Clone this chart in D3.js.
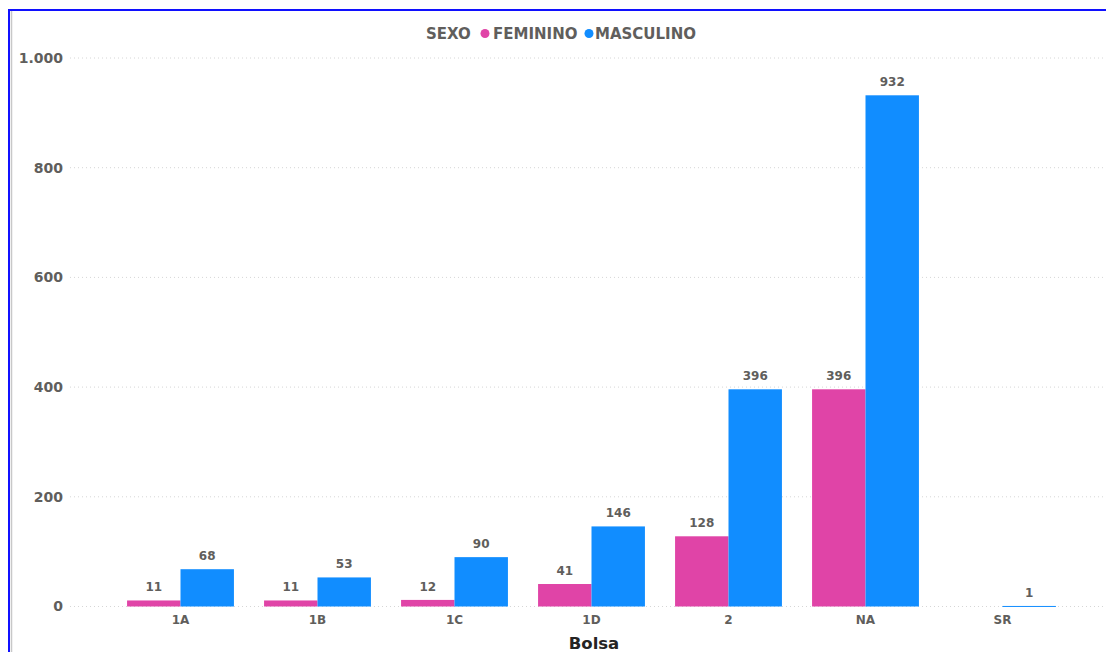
<!DOCTYPE html>
<html>
<head>
<meta charset="utf-8">
<script src="https://cdn.jsdelivr.net/npm/d3@7"></script>
<style>
  html, body { margin: 0; padding: 0; background: #fff; }
  svg { display: block; font-family: "DejaVu Sans", Verdana, sans-serif; }
</style>
</head>
<body>
<svg id="chart" width="1106" height="652"></svg>
<script>
// Bolsa categories and counts by sex
const categories = ["1A", "1B", "1C", "1D", "2", "NA", "SR"];
const feminino = [11, 11, 12, 41, 128, 396, null];
const masculino = [68, 53, 90, 146, 396, 932, 1];
const yTicks = [0, 200, 400, 600, 800, 1000];
const seriesNames = ["FEMININO", "MASCULINO"];
const seriesColors = ["#E044A7", "#118DFF"];

const FONT = "'DejaVu Sans', Verdana, sans-serif";
const svg = d3.select("#chart");
const W = 1106, H = 652;

// frame
svg.append("rect").attr("x", 0).attr("y", 0).attr("width", W).attr("height", H).attr("fill", "#fff");
svg.append("line").attr("x1", 8).attr("x2", W).attr("y1", 10).attr("y2", 10)
  .attr("stroke", "#1010ff").attr("stroke-width", 2);
svg.append("line").attr("x1", 9).attr("x2", 9).attr("y1", 9).attr("y2", H)
  .attr("stroke", "#1010ff").attr("stroke-width", 2);
svg.append("line").attr("x1", 11.5).attr("x2", 11.5).attr("y1", 11).attr("y2", H)
  .attr("stroke", "#c8c8c8").attr("stroke-width", 1.5);

const x = d3.scaleBand().domain(categories).range([112, 1071])
  .paddingInner(0.22).paddingOuter(0.11);
const x1 = d3.scaleBand().domain(seriesNames).range([0, x.bandwidth()]);
const y = d3.scaleLinear().domain([0, 1000]).range([606.5, 58]);

// gridlines
svg.append("g").selectAll("line").data(yTicks).join("line")
  .attr("x1", 70).attr("x2", 1104)
  .attr("y1", d => y(d)).attr("y2", d => y(d))
  .attr("stroke", "#d6d6d6").attr("stroke-width", 1)
  .attr("stroke-dasharray", "1,3");

// y axis labels
const fmt = d => d3.format(",")(d).replace(/,/g, ".");
const yAxis = d3.axisLeft(y).tickValues(yTicks).tickFormat(fmt).tickSize(0).tickPadding(0);
const gy = svg.append("g").attr("transform", "translate(63,0)").call(yAxis);
gy.select(".domain").remove();
gy.selectAll("text").attr("fill", "#605e5c").attr("font-size", 14).attr("font-weight", "bold")
  .attr("font-family", FONT);

// x axis labels
const xAxis = d3.axisBottom(x).tickSize(0).tickPadding(0);
const gx = svg.append("g").attr("transform", "translate(0,615.5)").call(xAxis);
gx.select(".domain").remove();
gx.selectAll("text").attr("fill", "#605e5c").attr("font-size", 12).attr("font-weight", "bold")
  .attr("font-family", FONT);

// bars
const rows = categories.map((c, i) => ({ cat: c, vals: [feminino[i], masculino[i]] }));
const groups = svg.append("g").selectAll("g").data(rows).join("g")
  .attr("transform", d => `translate(${x(d.cat)},0)`);

groups.selectAll("rect").data(d => d.vals.map((v, j) => ({ v, j })).filter(e => e.v != null))
  .join("rect")
  .attr("x", e => x1(seriesNames[e.j]))
  .attr("width", x1.bandwidth())
  .attr("y", e => y(e.v))
  .attr("height", e => Math.max(1, y(0) - y(e.v)))
  .attr("fill", e => seriesColors[e.j]);

groups.selectAll("text").data(d => d.vals.map((v, j) => ({ v, j })).filter(e => e.v != null))
  .join("text")
  .attr("x", e => x1(seriesNames[e.j]) + x1.bandwidth() / 2)
  .attr("y", e => y(e.v) - 9)
  .attr("text-anchor", "middle")
  .attr("fill", "#605e5c").attr("font-size", 12).attr("font-weight", "bold")
  .text(e => e.v);

// x axis title
svg.append("text").attr("x", 594).attr("y", 649).attr("text-anchor", "middle")
  .attr("fill", "#252423").attr("font-size", 16.5).attr("font-weight", "bold").text("Bolsa");

// legend
const lg = svg.append("g").attr("transform", "translate(0,39)");
lg.append("text").attr("x", 426).attr("y", 0).attr("fill", "#605e5c")
  .attr("font-size", 15).attr("font-weight", "bold").text("SEXO");
const legendItems = [{ cx: 485, tx: 493 }, { cx: 589, tx: 595 }];
legendItems.forEach((it, i) => {
  lg.append("circle").attr("cx", it.cx).attr("cy", -5.5).attr("r", 4.5).attr("fill", seriesColors[i]);
  lg.append("text").attr("x", it.tx).attr("y", 0).attr("fill", "#605e5c")
    .attr("font-size", 15).attr("font-weight", "bold").text(seriesNames[i]);
});
</script>
</body>
</html>
